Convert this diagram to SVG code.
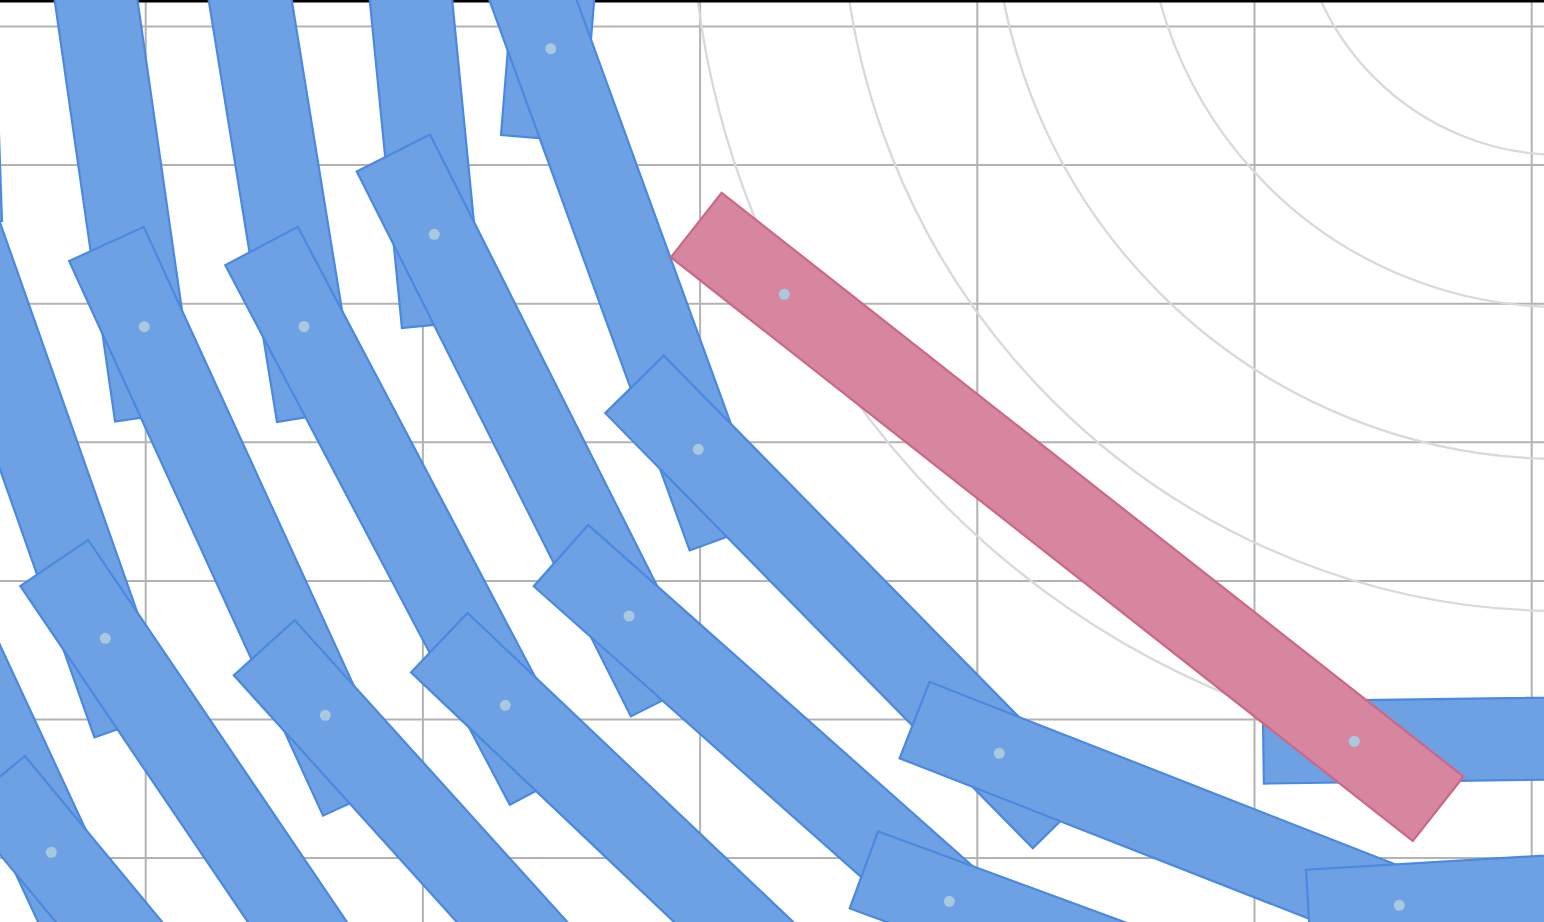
<svg xmlns="http://www.w3.org/2000/svg" width="1544" height="922" viewBox="0 0 1544 922">
<style>
.grid{stroke:#b3b3b3;stroke-width:2;fill:none}
.arc{stroke:#d9d9d9;stroke-width:2.3;fill:none}
.bar rect{fill:#6ea1e3;stroke:#4a89df;stroke-width:2.2}
.pink rect{fill:#d6869f;stroke:#cc6886;stroke-width:2.2}
.dot{fill:#a9c9df}
</style>
<rect width="1544" height="922" fill="#ffffff"/>
<g id="grid">
<line class="grid" x1="145.7" y1="0" x2="145.7" y2="922"/>
<line class="grid" x1="422.9" y1="0" x2="422.9" y2="922"/>
<line class="grid" x1="700.1" y1="0" x2="700.1" y2="922"/>
<line class="grid" x1="977.3" y1="0" x2="977.3" y2="922"/>
<line class="grid" x1="1254.5" y1="0" x2="1254.5" y2="922"/>
<line class="grid" x1="1531.7" y1="0" x2="1531.7" y2="922"/>
<line class="grid" x1="0" y1="26.5" x2="1544" y2="26.5"/>
<line class="grid" x1="0" y1="165.1" x2="1544" y2="165.1"/>
<line class="grid" x1="0" y1="303.7" x2="1544" y2="303.7"/>
<line class="grid" x1="0" y1="442.3" x2="1544" y2="442.3"/>
<line class="grid" x1="0" y1="580.9" x2="1544" y2="580.9"/>
<line class="grid" x1="0" y1="719.5" x2="1544" y2="719.5"/>
<line class="grid" x1="0" y1="858.1" x2="1544" y2="858.1"/>
</g>
<g id="arcs">
<circle class="arc" cx="1561" cy="-109" r="264"/>
<circle class="arc" cx="1561" cy="-109" r="416"/>
<circle class="arc" cx="1561" cy="-109" r="568"/>
<circle class="arc" cx="1561" cy="-109" r="720"/>
<circle class="arc" cx="1561" cy="-109" r="870"/>
</g>
<line x1="0" y1="1.3" x2="1544" y2="1.3" stroke="#000000" stroke-width="2.6"/>
<g id="bars">
<g id="bar-f" class="bar" transform="translate(-57.1 -296.3) rotate(88)"><rect x="-91" y="-41" width="610" height="82"/></g>
<g id="bar-e" class="bar" transform="translate(-39.3 234.3) rotate(70.6)"><rect x="-91" y="-41" width="610" height="82"/></g>
<g id="bar-g" class="bar" transform="translate(-18.9 701.8) rotate(65.1)"><rect x="-91" y="-41" width="610" height="82"/></g>
<g id="bar-a" class="bar" transform="translate(82 -98) rotate(81.84)"><rect x="-91" y="-41" width="610" height="82"/></g>
<g id="bar-b" class="bar" transform="translate(234.5 -96.9) rotate(80.8)"><rect x="-91" y="-41" width="610" height="82"/></g>
<g id="bar-c" class="bar" transform="translate(392.1 -192.5) rotate(84.4)"><rect x="-91" y="-41" width="610" height="82"/></g>
<g id="bar-d" class="bar" transform="translate(583.5 -379) rotate(94.6)"><rect x="-91" y="-41" width="610" height="82"/></g>
<g id="bar-3" class="bar" transform="translate(144.3 326.7) rotate(65.4)"><rect x="-91" y="-41" width="610" height="82"/></g>
<g id="bar-4" class="bar" transform="translate(304 326.5) rotate(62.2)"><rect x="-91" y="-41" width="610" height="82"/></g>
<g id="bar-2" class="bar" transform="translate(434.3 234.3) rotate(63.3)"><rect x="-91" y="-41" width="610" height="82"/></g>
<g id="bar-1" class="bar" transform="translate(550.7 48.7) rotate(70)"><rect x="-91" y="-41" width="610" height="82"/></g>
<g id="bar-9" class="bar" transform="translate(105.3 638.3) rotate(55.9)"><rect x="-91" y="-41" width="610" height="82"/></g>
<g id="bar-10" class="bar" transform="translate(51.3 852.3) rotate(50.4)"><rect x="-91" y="-41" width="610" height="82"/></g>
<g id="bar-8" class="bar" transform="translate(325.3 715.3) rotate(47.9)"><rect x="-91" y="-41" width="610" height="82"/></g>
<g id="bar-7" class="bar" transform="translate(505.3 705.3) rotate(43.5)"><rect x="-91" y="-41" width="610" height="82"/></g>
<g id="bar-6" class="bar" transform="translate(629 616) rotate(41.6)"><rect x="-91" y="-41" width="610" height="82"/></g>
<g id="bar-5" class="bar" transform="translate(698.3 449.3) rotate(45.5)"><rect x="-91" y="-41" width="610" height="82"/></g>
<g id="bar-11" class="bar" transform="translate(999.3 753.3) rotate(21.4)"><rect x="-91" y="-41" width="610" height="82"/></g>
<g id="bar-12" class="bar" transform="translate(949.3 901.3) rotate(20.2)"><rect x="-91" y="-41" width="610" height="82"/></g>
<g id="bar-13" class="bar" transform="translate(1399.3 905.3) rotate(-3.4)"><rect x="-91" y="-41" width="610" height="82"/></g>
<g id="bar-14" class="bar" transform="translate(1354.3 741.3) rotate(-0.8)"><rect x="-91" y="-41" width="610" height="82"/></g>
<g id="bar-pink" class="pink" transform="translate(784.3 294.3) rotate(38.2)"><rect x="-112" y="-41" width="944" height="82"/></g>
</g>
<g id="pivots">
<circle class="dot" cx="550.7" cy="48.7" r="5.5"/>
<circle class="dot" cx="434.3" cy="234.3" r="5.5"/>
<circle class="dot" cx="144.3" cy="326.7" r="5.5"/>
<circle class="dot" cx="304" cy="326.5" r="5.5"/>
<circle class="dot" cx="698.3" cy="449.3" r="5.5"/>
<circle class="dot" cx="629" cy="616" r="5.5"/>
<circle class="dot" cx="505.3" cy="705.3" r="5.5"/>
<circle class="dot" cx="325.3" cy="715.3" r="5.5"/>
<circle class="dot" cx="105.3" cy="638.3" r="5.5"/>
<circle class="dot" cx="51.3" cy="852.3" r="5.5"/>
<circle class="dot" cx="999.3" cy="753.3" r="5.5"/>
<circle class="dot" cx="949.3" cy="901.3" r="5.5"/>
<circle class="dot" cx="1399.3" cy="905.3" r="5.5"/>
<circle class="dot" cx="1354.3" cy="741.3" r="5.5"/>
<circle class="dot" cx="784.3" cy="294.3" r="5.5"/>
</g>
</svg>
